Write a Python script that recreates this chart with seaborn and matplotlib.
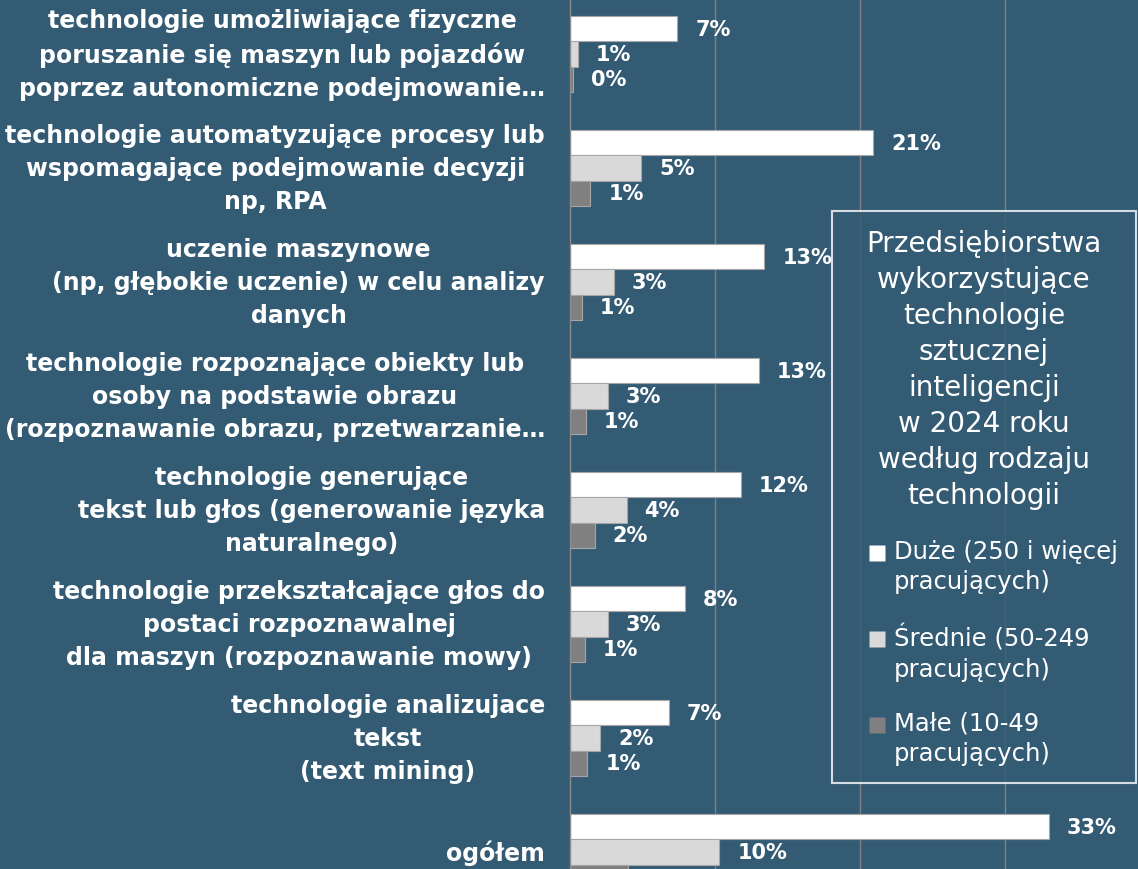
import pandas as pd
import seaborn as sns
import matplotlib.pyplot as plt
from matplotlib.lines import Line2D
from matplotlib.path import Path

categories = [
    "technologie umożliwiające fizyczne\nporuszanie się maszyn lub pojazdów\npoprzez autonomiczne podejmowanie…",
    "technologie automatyzujące procesy lub\nwspomagające podejmowanie decyzji\nnp, RPA",
    "uczenie maszynowe\n(np, głębokie uczenie) w celu analizy\ndanych",
    "technologie rozpoznające obiekty lub\nosoby na podstawie obrazu\n(rozpoznawanie obrazu, przetwarzanie…",
    "technologie generujące\ntekst lub głos (generowanie języka\nnaturalnego)",
    "technologie przekształcające głos do\npostaci rozpoznawalnej\ndla maszyn (rozpoznawanie mowy)",
    "technologie analizujace\ntekst\n(text mining)",
    "ogółem",
]
series_names = ["Duże (250 i więcej\npracujących)",
                "Średnie (50-249\npracujących)",
                "Małe (10-49\npracujących)"]
duze = [7.4, 20.9, 13.4, 13.0, 11.8, 7.9, 6.8, 33.0]
srednie = [0.55, 4.9, 3.0, 2.6, 3.9, 2.6, 2.1, 10.3]
male = [0.2, 1.4, 0.8, 1.1, 1.7, 1.0, 1.2, 4.0]
legend_title = ("Przedsiębiorstwa\nwykorzystujące\ntechnologie\nsztucznej\n"
                "inteligencji\nw 2024 roku\nwedług rodzaju\ntechnologii")

df = pd.DataFrame({
    "kat": categories * 3,
    "grupa": [series_names[0]] * 8 + [series_names[1]] * 8 + [series_names[2]] * 8,
    "val": duze + srednie + male,
})

bg = "#345B74"
sns.set_style("white")
plt.rcParams["font.family"] = ["DejaVu Sans"]

fig = plt.figure(figsize=(11.38, 8.70), dpi=100)
fig.patch.set_facecolor(bg)
ax = fig.add_axes([570 / 1138, 0, 568 / 1138, 1])
ax.set_facecolor(bg)

colors = {series_names[0]: "#FFFFFF", series_names[1]: "#D9D9D9", series_names[2]: "#808080"}
sns.barplot(data=df, x="val", y="kat", hue="grupa", orient="h", palette=colors,
            width=0.67, gap=0, edgecolor="#A6A6A6", linewidth=0.8, ax=ax, legend=False)

for cont in ax.containers:
    labs = [f"{round(b.get_width()):.0f}%" for b in cont]
    ax.bar_label(cont, labels=labs, padding=13, color="white",
                 fontsize=15, fontweight="bold")

for x in [10, 20, 30]:
    ax.axvline(x, color="#808080", lw=1, zorder=0)

for s in ["top", "right", "bottom"]:
    ax.spines[s].set_visible(False)
ax.spines["left"].set_color("#8C8C8C")
ax.spines["left"].set_linewidth(1)

ax.set_xticks([])
ax.set_xlabel("")
ax.set_ylabel("")
ax.set_yticks(range(len(categories)))
ax.set_yticks([i + 0.5 for i in range(len(categories) - 1)], minor=True)
ax.tick_params(axis="y", which="major", length=0, pad=18)
ax.tick_params(axis="y", which="minor", length=5, width=1, color="#8C8C8C", direction="out")
ax.set_yticklabels(categories, color="white", fontsize=17, fontweight="bold")
for t in ax.get_yticklabels():
    t.set_multialignment("center")
    t.set_verticalalignment("center")
    t.set_linespacing(1.47)

ax.set_xlim(0, 568 / 14.5)
ax.set_ylim(-0.5 + 872 / 114, -0.5 + 2 / 114)

# square marker sitting next to the first line of the two-line legend label
sq = Path([(-0.35, 0.3), (0.35, 0.3), (0.35, 1.0), (-0.35, 1.0), (-0.35, 0.3)],
          [Path.MOVETO, Path.LINETO, Path.LINETO, Path.LINETO, Path.CLOSEPOLY])
handles = [Line2D([], [], marker=sq, linestyle="none", markersize=31,
                  markerfacecolor=colors[n], markeredgecolor="none") for n in series_names]

leg = ax.legend(handles, series_names, title=legend_title, loc="upper left",
                bbox_to_anchor=(832 / 1138, 1 - 212 / 870), bbox_transform=fig.transFigure,
                frameon=True, fancybox=False, facecolor=bg, edgecolor="white",
                fontsize=17.5, title_fontsize=20, labelcolor="white",
                handlelength=2.2, handletextpad=-0.4,
                labelspacing=1.25, borderpad=0.75, borderaxespad=0)
leg.get_frame().set_linewidth(1.5)
leg.get_title().set_color("white")
leg.get_title().set_multialignment("center")
leg.get_title().set_linespacing(1.36)
for t in leg.get_texts():
    t.set_linespacing(1.32)

fig.savefig("out.png", dpi=100, facecolor=bg)
